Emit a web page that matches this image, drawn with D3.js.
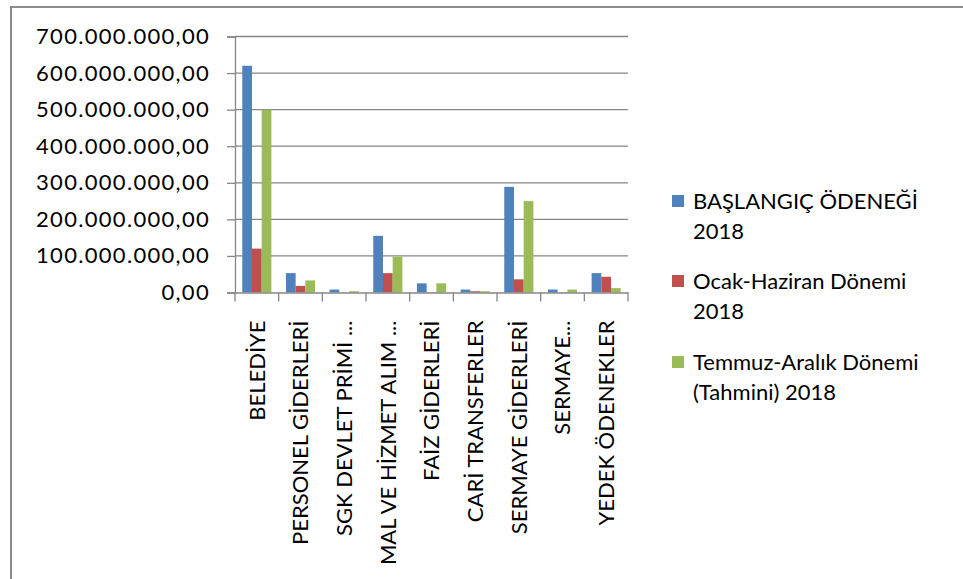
<!DOCTYPE html>
<html>
<head>
<meta charset="utf-8">
<script src="https://cdnjs.cloudflare.com/ajax/libs/d3/7.8.5/d3.min.js"></script>
<style>
  body { margin: 0; background: #fff; }
  text { font-family: Lato, "Open Sans", sans-serif; fill: #000; }
</style>
</head>
<body>
<div id="chart-area"></div>
<script>
// data
var categories = ["BELEDİYE", "PERSONEL GİDERLERİ", "SGK DEVLET PRİMİ ...", "MAL VE HİZMET ALIM ...",
	"FAİZ GİDERLERİ", "CARİ TRANSFERLER", "SERMAYE GİDERLERİ", "SERMAYE...", "YEDEK ÖDENEKLER"];
var seriesNames = ["BAŞLANGIÇ ÖDENEĞİ 2018", "Ocak-Haziran Dönemi 2018", "Temmuz-Aralık Dönemi (Tahmini) 2018"];
var baslangic = [620000000, 53000000, 8000000, 155000000, 25000000, 8000000, 289000000, 8000000, 53000000];
var ocakHaziran = [120000000, 18000000, 500000, 53000000, 500000, 3500000, 36000000, 500000, 43000000];
var temmuzAralik = [500000000, 33000000, 3500000, 98000000, 25000000, 3500000, 250000000, 8000000, 12000000];
var yTicks = [0, 100000000, 200000000, 300000000, 400000000, 500000000, 600000000, 700000000];
var legendLines = [["BAŞLANGIÇ ÖDENEĞİ", "2018"], ["Ocak-Haziran Dönemi", "2018"], ["Temmuz-Aralık Dönemi", "(Tahmini) 2018"]];
var colors = ["#4F81BD", "#C0504D", "#9BBB59"];

var W = 963, H = 579;
var plot = {left: 235, right: 628, top: 36.5, bottom: 292.5};

var svg = d3.select("#chart-area").append("svg")
	.attr("width", W)
	.attr("height", H);

// outer frame
svg.append("rect")
	.attr("x", 11).attr("y", 7)
	.attr("width", 1000).attr("height", 700)
	.attr("fill", "none")
	.attr("stroke", "#8c8c8c")
	.attr("stroke-width", 2);

var trFormat = d3.formatLocale({decimal: ",", thousands: ".", grouping: [3], currency: ["", ""]}).format(",.2f");

var x = d3.scaleBand()
	.domain(categories)
	.range([plot.left, plot.right])
	.paddingInner(0)
	.paddingOuter(0);

var gap = x.bandwidth() / 4.5 * 0.75;
var x1 = d3.scaleBand()
	.domain([0, 1, 2])
	.range([gap, x.bandwidth() - gap]);

var y = d3.scaleLinear()
	.domain([0, 700000000])
	.range([plot.bottom, plot.top]);

// gridlines
svg.append("g")
	.selectAll("line")
	.data(yTicks.slice(1))
	.enter().append("line")
		.attr("x1", plot.left).attr("x2", plot.right)
		.attr("y1", (d) => y(d)).attr("y2", (d) => y(d))
		.attr("stroke", "#868686")
		.attr("stroke-width", 1.3);

// bars
var series = [baslangic, ocakHaziran, temmuzAralik];
series.forEach((vals, si) => {
	svg.append("g")
		.selectAll("rect")
		.data(vals)
		.enter().append("rect")
			.attr("x", (d, i) => x(categories[i]) + x1(si))
			.attr("y", (d) => y(d))
			.attr("width", x1.bandwidth())
			.attr("height", (d) => plot.bottom - y(d))
			.attr("fill", colors[si]);
});

// y axis
var leftAxis = d3.axisLeft(y)
	.tickValues(yTicks)
	.tickSize(8)
	.tickPadding(17)
	.tickFormat(trFormat);

var ya = svg.append("g")
	.attr("transform", "translate(" + plot.left + ",0)")
	.call(leftAxis);
ya.select(".domain").attr("stroke", "#868686").attr("stroke-width", 1.3);
ya.selectAll(".tick line").attr("stroke", "#868686").attr("stroke-width", 1.3);
ya.selectAll("text")
	.attr("font-size", "22px")
	.style("font-family", "Lato, 'Open Sans', sans-serif")
	.style("letter-spacing", "1.3px")
	.attr("fill", "#000");

// x axis
var xAxisCall = d3.axisBottom(x).tickSize(0).tickPadding(0);
var xa = svg.append("g")
	.attr("transform", "translate(0," + plot.bottom + ")")
	.call(xAxisCall);
xa.select(".domain").attr("stroke", "#868686").attr("stroke-width", 1.3);
xa.selectAll("text")
	.attr("font-size", "22px")
	.style("font-family", "Lato, 'Open Sans', sans-serif")
	.attr("fill", "#000")
	.attr("text-anchor", "end")
	.attr("transform", "rotate(-90)")
	.attr("x", -28)
	.attr("y", 0)
	.attr("dy", "0.35em");

// category boundary ticks
svg.append("g")
	.selectAll("line")
	.data(categories.concat(["end"]))
	.enter().append("line")
		.attr("x1", (d, i) => plot.left + i * x.bandwidth())
		.attr("x2", (d, i) => plot.left + i * x.bandwidth())
		.attr("y1", plot.bottom).attr("y2", plot.bottom + 9)
		.attr("stroke", "#868686")
		.attr("stroke-width", 1.3);

// legend
var legend = svg.append("g").attr("transform", "translate(672,0)");
var legendY = [201, 281, 362];
legendLines.forEach((lines, i) => {
	legend.append("rect")
		.attr("x", 0).attr("y", legendY[i] - 6)
		.attr("width", 12).attr("height", 12)
		.attr("fill", colors[i]);
	lines.forEach((t, j) => {
		legend.append("text")
			.attr("x", 21)
			.attr("y", legendY[i] + j * 30)
			.attr("dy", "0.35em")
			.attr("font-size", "22px")
			.text(t);
	});
});
</script>
</body>
</html>
